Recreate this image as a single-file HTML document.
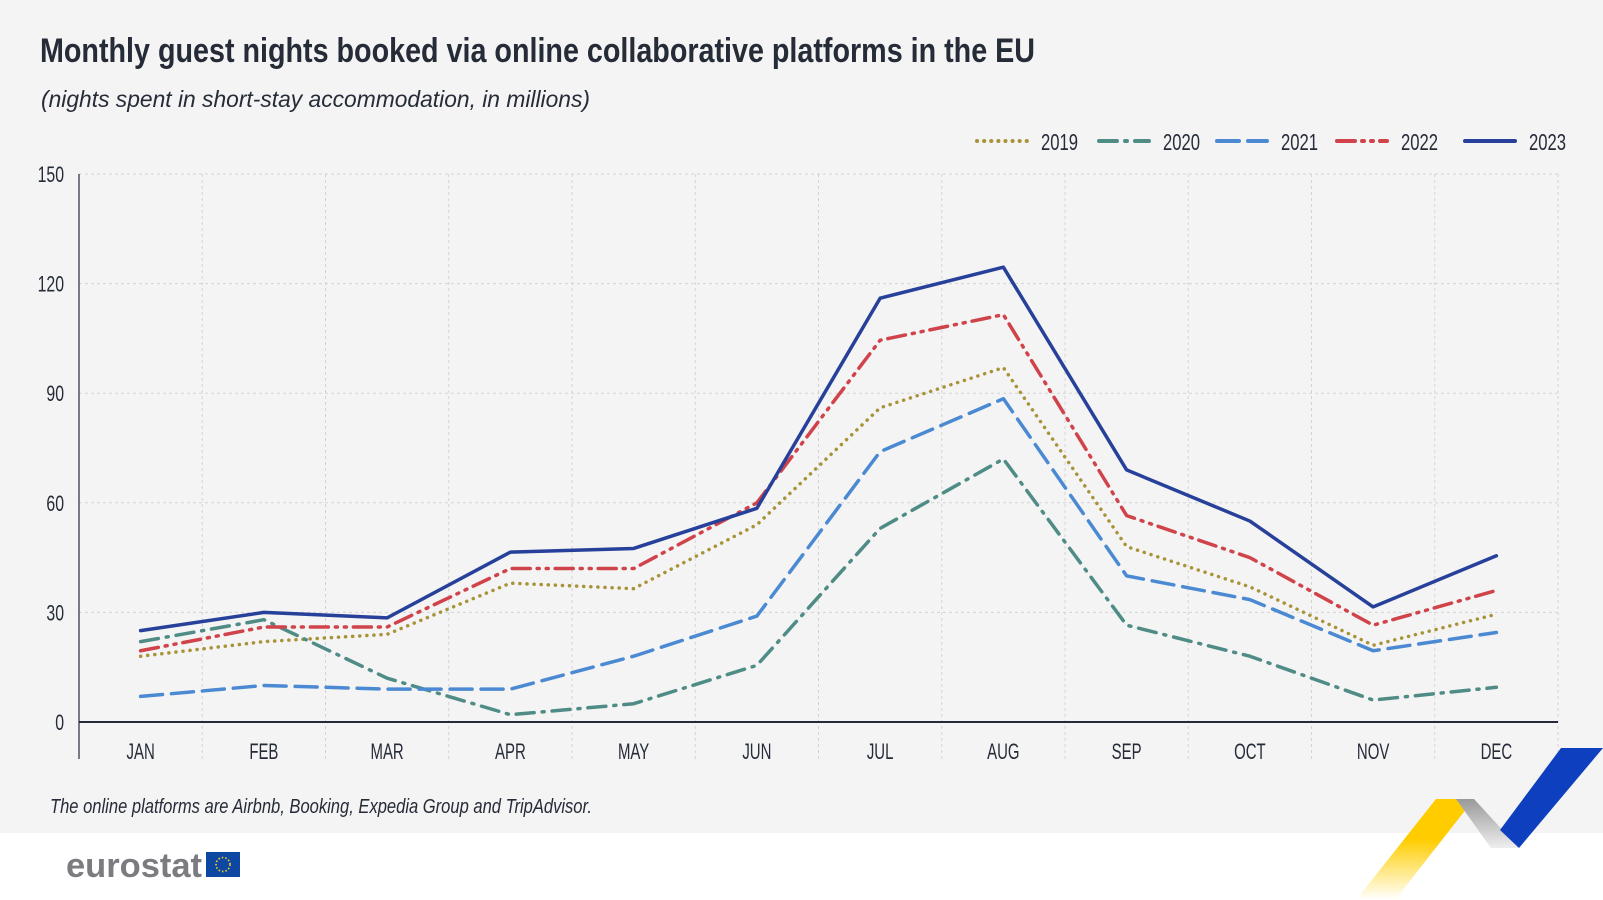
<!DOCTYPE html>
<html><head><meta charset="utf-8">
<style>
html,body{margin:0;padding:0;background:#fff;}
svg{display:block;}
text{font-family:"Liberation Sans Narrow","Liberation Sans",sans-serif;}
</style></head>
<body>
<svg id="chart" width="1603" height="900" viewBox="0 0 1603 900" xmlns="http://www.w3.org/2000/svg">
<rect x="0" y="0" width="1603" height="833" fill="#f4f4f4"/>
<text x="40" y="62" font-size="34" font-weight="bold" fill="#262b38" textLength="995" lengthAdjust="spacingAndGlyphs">Monthly guest nights booked via online collaborative platforms in the EU</text>
<text x="41" y="107" font-size="23" font-style="italic" fill="#262b38" textLength="549" lengthAdjust="spacingAndGlyphs">(nights spent in short-stay accommodation, in millions)</text>
<g id="grid"></g>
<g id="axes"></g>
<g id="series"></g>
<g id="legend"></g>
<text x="50" y="813" font-size="20" font-style="italic" fill="#262b38" textLength="542" lengthAdjust="spacingAndGlyphs">The online platforms are Airbnb, Booking, Expedia Group and TripAdvisor.</text>
<g>
<text x="66" y="877" font-size="34" font-weight="bold" fill="#7b7b80" textLength="136" lengthAdjust="spacingAndGlyphs">eurostat</text>
<rect x="206" y="852" width="34" height="25" fill="#0e47a1"/>
<circle cx="223" cy="864.5" r="7" fill="none" stroke="#ffd617" stroke-width="1.6" stroke-dasharray="1.5 2"/>
</g>
<g>
<defs><linearGradient id="yg" x1="0" y1="1" x2="0" y2="0"><stop offset="0" stop-color="#ffd000" stop-opacity="0"/><stop offset="0.6" stop-color="#ffcc00"/></linearGradient>
<linearGradient id="gg" x1="0" y1="0" x2="0" y2="1"><stop offset="0" stop-color="#999"/><stop offset="1" stop-color="#eee"/></linearGradient></defs>
<polygon points="1436,799 1474,799 1395,900 1356,900" fill="url(#yg)"/>
<polygon points="1456,799 1474,799 1519,848 1491,848" fill="url(#gg)"/>
<polygon points="1561,748 1603,748 1519,848 1500,830" fill="#0d3fbe"/>
</g>
</svg>
<script>
const categories=["JAN","FEB","MAR","APR","MAY","JUN","JUL","AUG","SEP","OCT","NOV","DEC"];
const yTicks=[0,30,60,90,120,150];
const seriesNames=["2019","2020","2021","2022","2023"];
const v2019=[18,22,24,38,36.5,54,86,97,48,37,21,29.5];
const v2020=[22,28,12,2,5,15.5,53,72,26.5,18,6,9.5];
const v2021=[7,10,9,9,18,29,74,88.5,40,33.5,19.5,24.5];
const v2022=[19.5,26,26,42,42,60,104.5,111.5,56.5,45,26.5,36];
const v2023=[25,30,28.5,46.5,47.5,58.5,116,124.5,69,55,31.5,45.5];

const NS="http://www.w3.org/2000/svg";
const L=79,R=1558,Y0=722,Y1=174,YMAX=150;
const band=(R-L)/categories.length;
const x=i=>L+band*(i+0.5);
const y=v=>Y0-(v/YMAX)*(Y0-Y1);
function mk(tag,attrs,parent){const e=document.createElementNS(NS,tag);for(const k in attrs)e.setAttribute(k,attrs[k]);parent.appendChild(e);return e;}
function narrow(t,f){const w=t.getComputedTextLength();t.setAttribute('textLength',(w*f).toFixed(1));t.setAttribute('lengthAdjust','spacingAndGlyphs');}
const grid=document.getElementById('grid'),axes=document.getElementById('axes'),ser=document.getElementById('series'),leg=document.getElementById('legend');
for(let i=0;i<=categories.length;i++){
  const gx=L+band*i;
  const ln=mk('line',{x1:gx,x2:gx,y1:Y1,y2:759,stroke:'#d3d3d3','stroke-dasharray':'3 3','stroke-width':1},grid);
  
  
}
yTicks.forEach(t=>{
  if(t>0){const ln=mk('line',{x1:L,x2:R,y1:y(t),y2:y(t),stroke:'#d3d3d3','stroke-dasharray':'3 3'},grid);
  
  }
  const tx=mk('text',{x:64,y:y(t)+8,'text-anchor':'end','font-size':22,fill:'#262b38'},axes);
  tx.textContent=t;
  
  
  narrow(tx,0.72);
});
const ya=mk('line',{x1:L,x2:L,y1:Y1,y2:759,stroke:'#262b38','stroke-width':1.2},axes);


const xa=mk('line',{x1:L,x2:R,y1:Y0,y2:Y0,stroke:'#262b38','stroke-width':2},axes);


categories.forEach((c,i)=>{
  const tx=mk('text',{x:x(i),y:759,'text-anchor':'middle','font-size':22,fill:'#262b38'},axes);
  tx.textContent=c;
  
  
  narrow(tx,0.68);
});
const styles=[
 {d:v2019,c:'#a99339',dash:'0.1 7',cap:'round',w:3.5},
 {d:v2020,c:'#4f8c86',dash:'18 8 2 8',cap:'round',w:3.5},
 {d:v2021,c:'#4b8ad3',dash:'22 9',cap:'round',w:3.5},
 {d:v2022,c:'#d0434a',dash:'18 7 2 7 2 7',cap:'round',w:3.5},
 {d:v2023,c:'#27409a',dash:'none',cap:'round',w:3.5}
];
styles.forEach((s,k)=>{
  const pts=s.d.map((v,i)=>x(i)+','+y(v)).join(' ');
  const pl=mk('polyline',{points:pts,fill:'none',stroke:s.c,'stroke-width':s.w,'stroke-dasharray':s.dash,'stroke-linecap':s.cap,'stroke-linejoin':'round'},ser);
  
  
  const lx=[977,1099,1217,1337,1465][k];
  const g=mk('g',{},leg);
  
  
  mk('line',{x1:lx,x2:lx+50,y1:141,y2:141,stroke:s.c,'stroke-width':4,'stroke-dasharray':s.dash,'stroke-linecap':s.cap},g);
  const t=mk('text',{x:lx+64,y:150,'font-size':23,fill:'#262b38'},g);
  t.textContent=seriesNames[k];
  t.setAttribute('textLength','37');
  t.setAttribute('lengthAdjust','spacingAndGlyphs');
});
</script>
</body></html>
